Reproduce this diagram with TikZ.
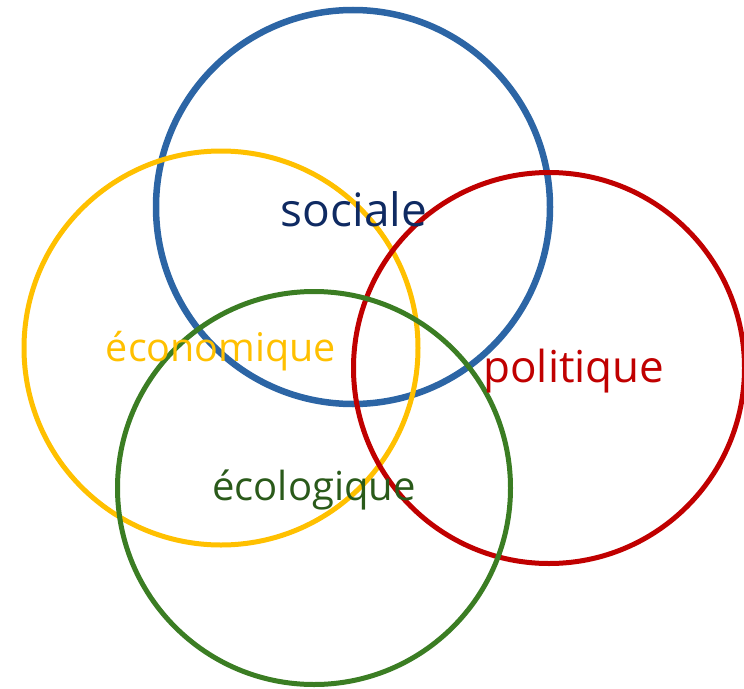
\documentclass[tikz,border=0pt]{standalone}
\usepackage{fontspec}
\setmainfont{Open Sans}
\definecolor{cblue}{HTML}{2C65A5}
\definecolor{cyellow}{HTML}{FFC000}
\definecolor{cred}{HTML}{C00000}
\definecolor{cgreen}{HTML}{3B7D23}
\definecolor{tnavy}{HTML}{0F2A62}
\definecolor{tgreen}{HTML}{2A5A1A}
\tikzset{ring/.style={draw, circle, minimum size=#1, inner sep=0pt},
  lbl/.style={font=\fontsize{#1}{#1}\selectfont, inner sep=0pt}}
\begin{document}
\begin{tikzpicture}[x=1pt,y=-1pt]
\useasboundingbox (0,0) rectangle (744,688);
\node[ring=394pt, cblue, line width=6.5pt] (soc) at (353,207) {};
\node[ring=394pt, cyellow, line width=5pt] (eco) at (221,348) {};
\node[ring=391pt, cred, line width=5pt] (pol) at (549,368) {};
\node[ring=393pt, cgreen, line width=5pt] (ecol) at (314,488) {};
\node[lbl=46, text=tnavy] (tsoc) at (354,209) {sociale};
\node[lbl=39.5, text=cyellow] (teco) at (221,351) {économique};
\node[lbl=44, text=cred] (tpol) at (574,371) {politique};
\node[lbl=40, text=tgreen] (tecol) at (314,490) {écologique};
\end{tikzpicture}
\end{document}
